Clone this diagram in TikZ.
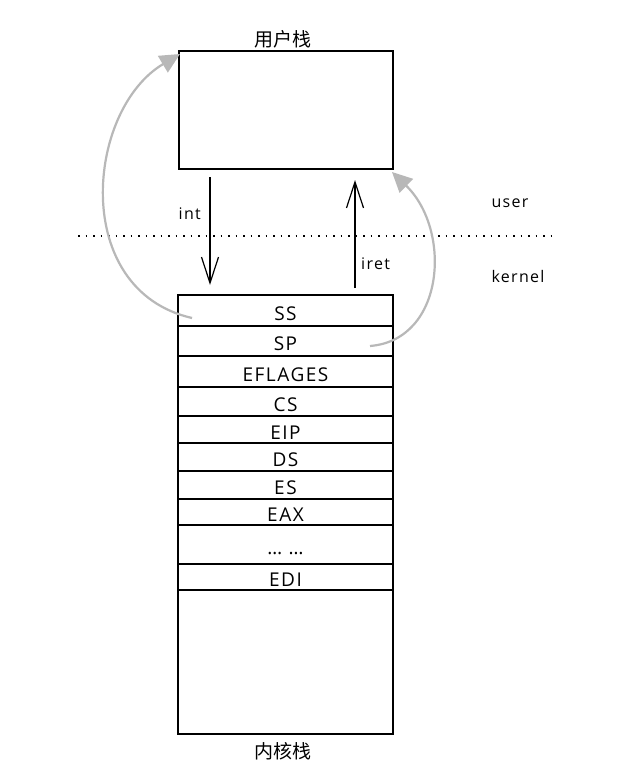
\documentclass[tikz,border=0pt]{standalone}
\usepackage{fontspec}
\setmainfont{Open Sans}
\newfontfamily\cjk{Noto Sans CJK SC}
\newfontfamily\wide[LetterSpace=8]{Open Sans}
\usetikzlibrary{arrows.meta}
\begin{document}
\begin{tikzpicture}[x=1pt,y=-1pt,
  box/.style={draw=black, line width=1.2pt, inner sep=0pt, outer sep=0pt},
  rowbox/.style={draw=black, line width=1.1pt, inner sep=0pt, outer sep=0pt,
    minimum width=215pt, anchor=north west, font=\wide\fontsize{19}{19}\selectfont,
    text depth=0pt, text height=19pt},
  stacktitle/.style={font=\cjk\fontsize{19}{19}\selectfont, inner sep=0pt},
  lbl/.style={font=\wide\fontsize{16}{16}\selectfont, inner sep=0pt},
  flow/.style={line width=1.2pt, -{Straight Barb[length=26pt, width=17pt, line width=1.2pt]}},
  grayarc/.style={draw=black!28, line width=2.2pt, -{Triangle[length=20pt, width=19pt]}},
  divider/.style={line width=1.2pt, dash pattern=on 1.5pt off 6pt}
]
\useasboundingbox (0,0) rectangle (633,778);
\fill[white] (0,0) rectangle (633,778);

% user stack
\node[box, minimum width=214pt, minimum height=118pt, anchor=north west] (ustack) at (179,51) {};
\node[stacktitle] (ulabel) at (283,39) {用户栈};

% kernel stack
\node[box, minimum width=215pt, minimum height=439pt, anchor=north west] (kstack) at (178,295) {};
\node[stacktitle] (klabel) at (283,751) {内核栈};

\node[rowbox, minimum height=31pt] (ss) at (178,295) {SS};
\node[rowbox, minimum height=30pt] (sp) at (178,326) {SP};
\node[rowbox, minimum height=31pt] (efl) at (178,356) {EFLAGES};
\node[rowbox, minimum height=29pt] (cs) at (178,387) {CS};
\node[rowbox, minimum height=27pt] (eip) at (178,416) {EIP};
\node[rowbox, minimum height=28pt] (ds) at (178,443) {DS};
\node[rowbox, minimum height=28pt] (es) at (178,471) {ES};
\node[rowbox, minimum height=26pt] (eax) at (178,499) {EAX};
\node[rowbox, minimum height=39pt] (dots) at (178,525) {\dots\ \dots};
\node[rowbox, minimum height=26pt] (edi) at (178,564) {EDI};

% divider
\coordinate (dl) at (78,236);
\coordinate (dr) at (552,236);
\draw[divider] (dl) -- (dr);

% labels
\node[lbl] (user) at (510,203) {user};
\node[lbl] (kernel) at (518,276) {kernel};

% int / iret
\draw[flow] ([xshift=31pt, yshift=-8pt]ustack.south west) -- ([xshift=32pt, yshift=10pt]kstack.north west);
\node[lbl, anchor=east] (int) at (201,214) {int};
\draw[flow] ([xshift=177pt, yshift=7pt]kstack.north west) -- ([xshift=176pt, yshift=-11pt]ustack.south west);
\node[lbl, anchor=west] (iret) at (361,264) {iret};

% gray arcs
\draw[grayarc] ([xshift=14pt, yshift=-7.5pt]ss.west) .. controls (70,290) and (86,110) .. ([xshift=1pt, yshift=-3pt]ustack.north west);
\draw[grayarc] ([xshift=-23pt, yshift=-5pt]sp.east) .. controls (445,340) and (452,230) .. ([xshift=-1pt, yshift=-3pt]ustack.south east);
\end{tikzpicture}
\end{document}
